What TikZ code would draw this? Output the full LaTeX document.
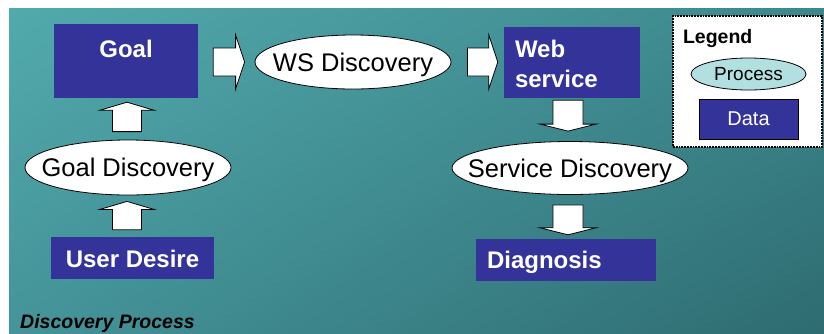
\documentclass[tikz,border=0pt]{standalone}
\usepackage{fontspec}
\setmainfont{Liberation Sans}
\usetikzlibrary{shapes.geometric,calc,shadings}
\definecolor{databl}{RGB}{51,51,153}
\definecolor{proccy}{RGB}{178,224,224}
\definecolor{bgTL}{RGB}{82,170,173}
\definecolor{bgTR}{RGB}{60,135,140}
\definecolor{bgBL}{RGB}{68,148,153}
\definecolor{bgBR}{RGB}{46,108,113}
\newcommand\bodyw{14pt}
\newcommand\headw{27pt}
\newcommand\headlen{9pt}
\newcommand\blkarrow[2]{%
  \coordinate (ba-m) at ($(#2)!\headlen!(#1)$);
  \draw[blockarrow] ($(#1)!\bodyw!90:(#2)$) -- ($(ba-m)!\bodyw!90:(#2)$)
    -- ($(ba-m)!\headw!90:(#2)$) -- (#2) -- ($(ba-m)!\headw!-90:(#2)$)
    -- ($(ba-m)!\bodyw!-90:(#2)$) -- ($(#1)!\bodyw!-90:(#2)$) -- cycle;}
\tikzset{
  databox/.style={draw=none, fill=databl, text=white, inner sep=0pt,
    font=\fontsize{24}{30}\selectfont\bfseries},
  procell/.style={ellipse, draw=black, line width=0.8pt, fill=white, inner sep=0pt,
    text height=18pt, text depth=0pt, font=\fontsize{25.5}{30}\selectfont},
  blockarrow/.style={draw=black, line width=0.8pt, fill=white, line join=miter},
}
\begin{document}
\begin{tikzpicture}[x=1pt, y=-1pt]
\useasboundingbox (0,0) rectangle (824,333);
\fill[white] (0,0) rectangle (824,333);
\shade[upper left=bgTL, upper right=bgTR, lower left=bgBL, lower right=bgBR] (9,8) rectangle (824,333);

% data boxes
\node[databox, minimum width=144pt, text height=33pt, text depth=41pt] (goal) at (126,61) {Goal};
\node[databox, text width=114pt, inner xsep=11pt, align=left, text height=30pt, text depth=41pt] (web) at (572,62.5) {Web\\service};
\node[databox, minimum width=163pt, text height=30pt, text depth=12pt] (user) at (132.5,258) {User Desire};
\node[databox, text width=158pt, inner xsep=11pt, align=left, text height=29pt, text depth=13pt] (diag) at (566,260) {Diagnosis};

% processes
\node[procell, minimum width=196pt, minimum height=54pt] (ws) at (353,62) {\makebox[0pt]{WS Discovery}};
\node[procell, minimum width=206pt, minimum height=55pt] (gd) at (128,167.5) {\makebox[0pt]{Goal Discovery}};
\node[procell, minimum width=236pt, minimum height=53pt] (sd) at (570,168) {\makebox[0pt]{Service Discovery}};

% arrow endpoints
\coordinate (a1s) at ($(goal.east |- ws.center)+(15,0)$);
\coordinate (a1e) at ($(ws.west)+(-10,0)$);
\coordinate (a2s) at ($(ws.east)+(16,0)$);
\coordinate (a2e) at ($(web.west |- ws.center)+(-6,0)$);
\coordinate (a3s) at ($(web.south -| 568,0)+(0,2)$);
\coordinate (a3e) at ($(sd.north -| 568,0)+(0,-10)$);
\coordinate (a4s) at ($(sd.south -| 568,0)+(0,10)$);
\coordinate (a4e) at ($(diag.north -| 568,0)+(0,-4)$);
\coordinate (a5s) at ($(gd.north -| 127,0)+(0,-8)$);
\coordinate (a5e) at ($(goal.south -| 127,0)+(0,4)$);
\coordinate (a6s) at ($(user.north -| 127,0)+(0,-7)$);
\coordinate (a6e) at ($(gd.south -| 127,0)+(0,6)$);

\blkarrow{a1s}{a1e}
\blkarrow{a2s}{a2e}
\renewcommand\bodyw{15pt}\renewcommand\headw{28pt}\renewcommand\headlen{7pt}
\blkarrow{a3s}{a3e}
\blkarrow{a4s}{a4e}
\renewcommand\bodyw{14.5pt}\renewcommand\headw{27pt}\renewcommand\headlen{8pt}
\blkarrow{a5s}{a5e}
\blkarrow{a6s}{a6e}

% legend
\node[draw=black, densely dotted, line width=1.8pt, fill=white, inner xsep=10pt, inner ysep=0pt,
  text width=129pt, align=left, text height=27pt, text depth=104pt,
  font=\fontsize{19.5}{24}\selectfont\bfseries] (legend) at (747.5,81.5) {Legend};
\node[ellipse, draw=black, line width=0.8pt, fill=proccy, minimum width=115pt, minimum height=32pt,
  inner sep=0pt, font=\fontsize{19}{22}\selectfont] (lproc) at (748.5,74) {Process};
\node[draw=black, line width=0.5pt, fill=databl, text=white, minimum width=99pt, minimum height=40pt,
  inner sep=0pt, font=\fontsize{20}{24}\selectfont] (ldata) at (748.5,119) {Data};

% caption
\node[anchor=base west, inner sep=0pt, font=\fontsize{19.5}{24}\selectfont\bfseries\itshape] (cap) at (20,328) {Discovery Process};
\end{tikzpicture}
\end{document}
